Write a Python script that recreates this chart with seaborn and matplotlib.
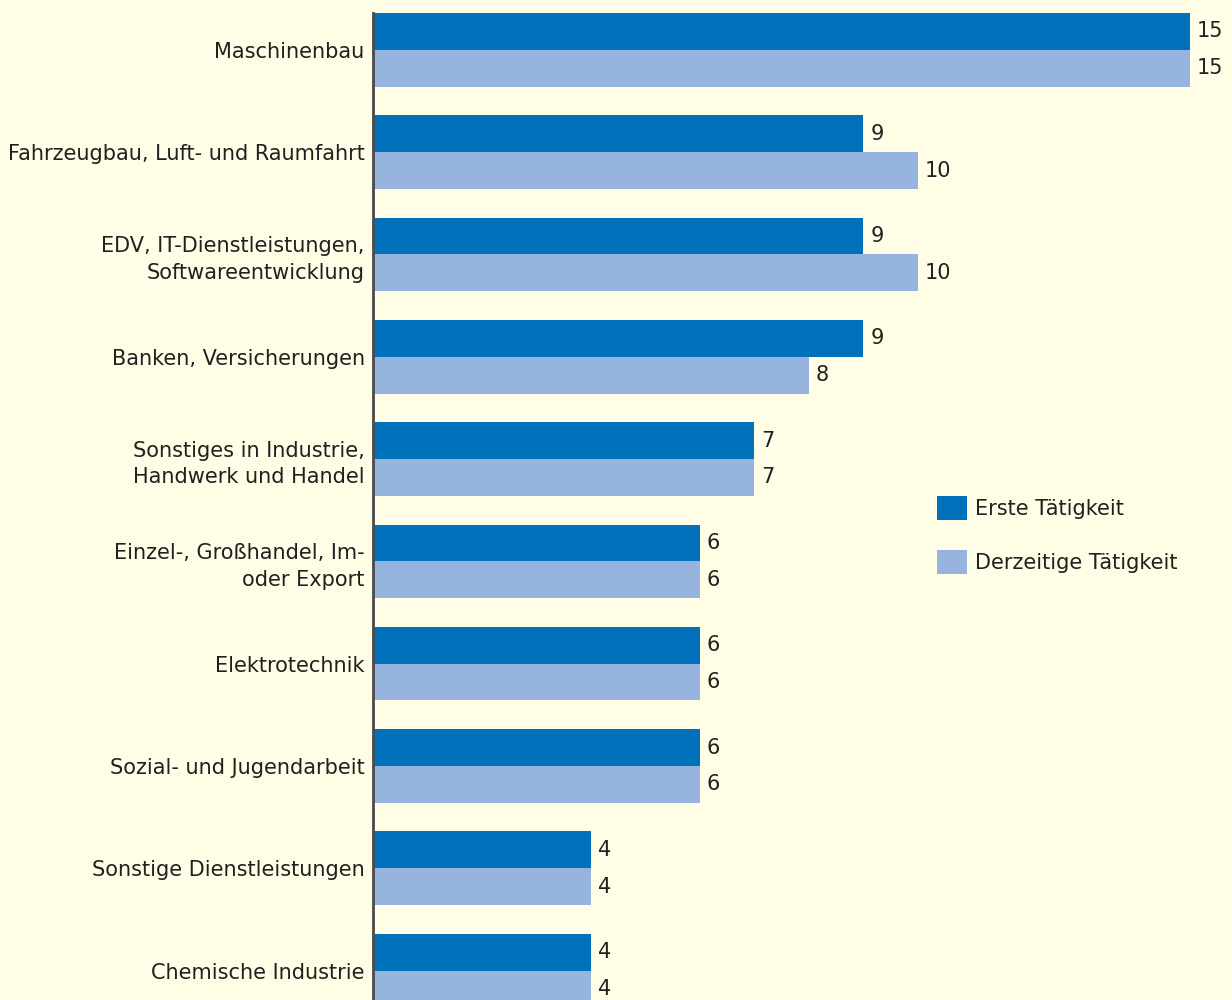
import matplotlib
matplotlib.use("Agg")
import matplotlib.pyplot as plt
import seaborn as sns
import pandas as pd
from matplotlib.patches import Patch

categories = [
    "Maschinenbau",
    "Fahrzeugbau, Luft- und Raumfahrt",
    "EDV, IT-Dienstleistungen,\nSoftwareentwicklung",
    "Banken, Versicherungen",
    "Sonstiges in Industrie,\nHandwerk und Handel",
    "Einzel-, Großhandel, Im-\noder Export",
    "Elektrotechnik",
    "Sozial- und Jugendarbeit",
    "Sonstige Dienstleistungen",
    "Chemische Industrie",
]
erste = [15, 9, 9, 9, 7, 6, 6, 6, 4, 4]
derzeitige = [15, 10, 10, 8, 7, 6, 6, 6, 4, 4]
series = ["Erste Tätigkeit", "Derzeitige Tätigkeit"]
colors = ["#0071BA", "#96B4DE"]

df = pd.DataFrame({
    "Branche": categories * 2,
    "Wert": erste + derzeitige,
    "Serie": [series[0]] * len(categories) + [series[1]] * len(categories),
})

sns.set_theme(style="white")
plt.rcParams["font.family"] = ["DejaVu Sans"]
bg = "#FFFDE6"
txt = "#231F20"
fs = 15

W, H = 1232, 1000
fig = plt.figure(figsize=(W / 100, H / 100), dpi=100, facecolor=bg)
ax = fig.add_axes([373 / W, 0, (W - 373) / W, 987 / H])
ax.set_facecolor(bg)

sns.barplot(data=df, y="Branche", x="Wert", hue="Serie", palette=colors,
            order=categories, hue_order=series, width=0.72, ax=ax,
            saturation=1, legend=False, orient="h", linewidth=0)

for cont in ax.containers:
    ax.bar_label(cont, padding=5, fontsize=fs, color=txt)

ax.set_xlim(0, (W - 373) / 54.47)
ax.set_ylim(-0.36 + 987 / 102.3, -0.36)
ax.set_xlabel("")
ax.set_ylabel("")
ax.set_xticks([])
ax.tick_params(axis="y", length=0, pad=6, labelsize=fs, labelcolor=txt)
for lab in ax.get_yticklabels():
    lab.set_ha("right")
    lab.set_multialignment("right")
    lab.set_linespacing(1.4)
for s in ["top", "right", "bottom"]:
    ax.spines[s].set_visible(False)
ax.spines["left"].set_color("#4A4A4A")
ax.spines["left"].set_linewidth(2)

handles = [Patch(facecolor=c, edgecolor="none") for c in colors]
leg = ax.legend(handles, series, loc="upper left",
                bbox_to_anchor=((937 - 373) / (W - 373), 1 - (496 - 13) / 987),
                frameon=False, fontsize=fs, handlelength=1.42, handleheight=1.41,
                handletextpad=0.4, labelspacing=1.42, borderaxespad=0,
                borderpad=0)
for t in leg.get_texts():
    t.set_color(txt)

fig.savefig("out.png", dpi=100, facecolor=bg)
